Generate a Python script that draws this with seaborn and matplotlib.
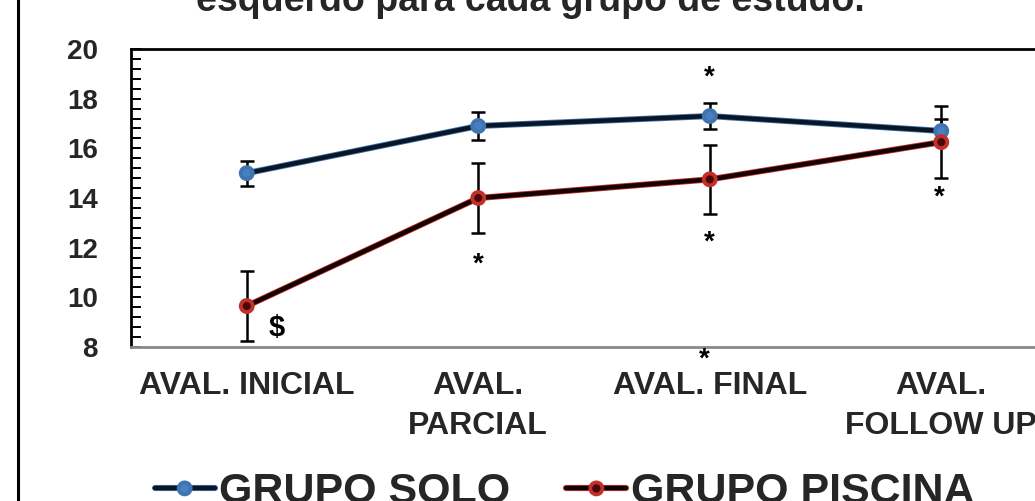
import numpy as np
import pandas as pd
import matplotlib
matplotlib.use("Agg")
import matplotlib.pyplot as plt
import matplotlib.patheffects as pe
from matplotlib.lines import Line2D
from matplotlib.ticker import MultipleLocator
import seaborn as sns

# Avaliações (eixo x)
categorias = ["AVAL. INICIAL", "AVAL.\nPARCIAL", "AVAL. FINAL", "AVAL.\nFOLLOW UP"]

# Médias e desvios de cada grupo
solo_media = [15.0, 16.9, 17.3, 16.7]
solo_dp = [0.5, 0.55, 0.52, 0.5]
piscina_media = [9.65, 14.0, 14.75, 16.25]
piscina_dp = [1.4, 1.42, 1.4, 1.45]

grupos = ["GRUPO SOLO", "GRUPO PISCINA"]

sns.set_theme(style="white")
plt.rcParams["font.family"] = ["Liberation Sans", "DejaVu Sans"]
plt.rcParams["font.weight"] = "bold"

df = pd.DataFrame({
    "avaliacao": categorias * 2,
    "valor": solo_media + piscina_media,
    "grupo": [grupos[0]] * 4 + [grupos[1]] * 4,
})

fig = plt.figure(figsize=(10.35, 5.01), dpi=100)
ax = fig.add_axes([131 / 1035, 1 - 347 / 501, 926 / 1035, 298 / 501])

paleta = {grupos[0]: "#0a1626", grupos[1]: "#140202"}
sns.lineplot(data=df, x="avaliacao", y="valor", hue="grupo", palette=paleta,
             sort=False, marker="o", markersize=7, linewidth=3.2, ax=ax,
             legend=False)

x = np.arange(len(categorias))
ax.errorbar(x, solo_media, yerr=solo_dp, fmt="none", ecolor="black",
            elinewidth=1.8, capsize=5, capthick=1.8, zorder=1)
ax.errorbar(x, piscina_media, yerr=piscina_dp, fmt="none", ecolor="black",
            elinewidth=1.8, capsize=5, capthick=1.8, zorder=1)

# Contorno colorido das linhas e marcadores
contornos = ["#3f74b0", "#c2302a"]
preenchimentos = ["#4a7fbf", "#4a0808"]
series_lines = [l for l in ax.lines if l.get_marker() == "o"]
for line, cor, fill in zip(series_lines, contornos, preenchimentos):
    line.set_path_effects([pe.Stroke(linewidth=4.4, foreground=cor), pe.Normal()])
    line.set_markerfacecolor(fill)
    line.set_markeredgecolor(cor)
    line.set_markeredgewidth(1.2)
    line.set_zorder(3)

ax.set_xlim(-0.5, 3.5)
ax.set_ylim(8, 20)
ax.yaxis.set_major_locator(MultipleLocator(2))
ax.yaxis.set_minor_locator(MultipleLocator(0.4))
ax.tick_params(axis="y", which="both", direction="in", length=7, width=1.4,
               color="black", left=True, labelsize=20, pad=24)
ax.tick_params(axis="x", length=0, labelsize=23, pad=17)
ax.set_xticks(x)
ax.set_xticklabels(categorias, fontweight="bold", linespacing=1.45)
for t in ax.get_yticklabels():
    t.set_fontweight("bold")
ax.set_xlabel("")
ax.set_ylabel("")

for side in ["top", "left"]:
    ax.spines[side].set_color("black")
    ax.spines[side].set_linewidth(2)
ax.spines["bottom"].set_color("#8a8a8a")
ax.spines["bottom"].set_linewidth(2)
ax.spines["right"].set_visible(False)

# Marcas de significância
marca = dict(ha="center", va="center", fontsize=20, fontweight="bold", color="black")
ax.text(2, 18.85, "*", **marca)
ax.text(1, 11.3, "*", **marca)
ax.text(2, 12.2, "*", **marca)
ax.text(2.99, 14.0, "*", **marca)
ax.text(1.975, 7.5, "*", clip_on=False, **marca)
ax.text(0.13, 8.75, "$", ha="center", va="center", fontsize=21,
        fontweight="bold", color="black")

# Título
fig.text(530 / 1035, 1 - 11 / 501, "esquerdo para cada grupo de estudo.",
         ha="center", va="baseline", fontsize=27, fontweight="bold")

# Legenda
handles = [
    Line2D([], [], color=paleta[g], marker="o", markersize=7, linewidth=3.2,
           markerfacecolor=f, markeredgecolor=c,
           path_effects=[pe.Stroke(linewidth=4.4, foreground=c), pe.Normal()])
    for g, f, c in zip(grupos, preenchimentos, contornos)
]
fig.legend(handles, grupos, loc="lower left", bbox_to_anchor=(133 / 1035, -33 / 501),
           ncol=2, frameon=False, prop={"size": 31, "weight": "bold"},
           handlelength=1.4, handletextpad=0.1, columnspacing=1.3,
           borderpad=0.0)

# Borda lateral esquerda
fig.add_artist(Line2D([18 / 1035, 18 / 1035], [0, 1], color="black", linewidth=2.2))

fig.savefig("out.png", dpi=100)
